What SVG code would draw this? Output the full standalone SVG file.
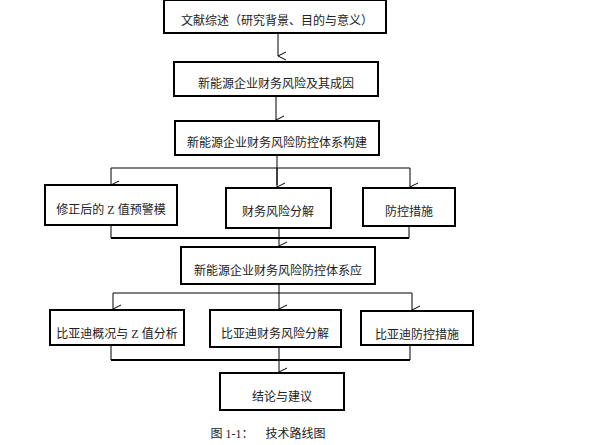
<svg xmlns="http://www.w3.org/2000/svg" width="611" height="445" viewBox="0 0 611 445">
<style>
.b{fill:#fff;stroke:#000;stroke-width:2}
.t{font-family:"Liberation Serif","Noto Sans CJK SC",serif;font-size:12px;fill:#222;text-anchor:middle}
.c{fill:none;stroke:#000;stroke-width:1}
.h{fill:none;stroke:#000;stroke-width:2}
</style>
<defs><marker id="a" markerWidth="10" markerHeight="10" refX="5" refY="9" orient="auto" markerUnits="userSpaceOnUse"><path d="M1,1 L5,9 L9,1" fill="none" stroke="#000" stroke-width="1"/></marker></defs>
<rect width="611" height="445" fill="#fff"/>
<g id="connectors">
<path class="c" d="M278,33V56" marker-end="url(#a)"/>
<path class="c" d="M276,96V120" marker-end="url(#a)"/>
<path class="c" d="M277,155V185"/>
<path class="c" d="M111,168H410"/>
<path class="c" d="M111,168V185" marker-end="url(#a)"/>
<path class="c" d="M277,168V187" marker-end="url(#a)"/>
<path class="c" d="M410,168V187" marker-end="url(#a)"/>
<path class="c" d="M111,225V238M279,228V238M409,226V238"/>
<path class="h" d="M111,238H409"/>
<path class="c" d="M279,238V246" marker-end="url(#a)"/>
<path class="c" d="M279,284V309" marker-end="url(#a)"/>
<path class="c" d="M113,293H412"/>
<path class="c" d="M113,293V309" marker-end="url(#a)"/>
<path class="c" d="M412,293V310" marker-end="url(#a)"/>
<path class="c" d="M111,345V360M279,347V360M410,345V360"/>
<path class="h" d="M111,360H410"/>
<path class="c" d="M279,360V372" marker-end="url(#a)"/>
</g>
<g id="n1"><rect class="b" x="164" y="0" width="222" height="33"/><text class="t" x="277" y="25">文献综述（研究背景、目的与意义）</text></g>
<g id="n2"><rect class="b" x="174" y="62" width="204" height="34"/><text class="t" x="276" y="88">新能源企业财务风险及其成因</text></g>
<g id="n3"><rect class="b" x="175" y="121" width="204" height="34"/><text class="t" x="277" y="147">新能源企业财务风险防控体系构建</text></g>
<g id="n4"><rect class="b" x="45" y="185" width="132" height="40"/><text class="t" x="111" y="214">修正后的 Z 值预警模</text></g>
<g id="n5"><rect class="b" x="226" y="188" width="105" height="40"/><text class="t" x="278" y="216">财务风险分解</text></g>
<g id="n6"><rect class="b" x="363" y="188" width="92" height="38"/><text class="t" x="409" y="216">防控措施</text></g>
<g id="n7"><rect class="b" x="181" y="247" width="194" height="37"/><text class="t" x="278" y="275">新能源企业财务风险防控体系应</text></g>
<g id="n8"><rect class="b" x="50" y="310" width="134" height="35"/><text class="t" x="117" y="338">比亚迪概况与 Z 值分析</text></g>
<g id="n9"><rect class="b" x="210" y="310" width="131" height="37"/><text class="t" x="275" y="338">比亚迪财务风险分解</text></g>
<g id="n10"><rect class="b" x="361" y="311" width="112" height="34"/><text class="t" x="417" y="339">比亚迪防控措施</text></g>
<g id="n11"><rect class="b" x="220" y="373" width="124" height="37"/><text class="t" x="282" y="401">结论与建议</text></g>
<text class="t" x="268" y="438" xml:space="preserve">图 1-1：    技术路线图</text>
</svg>
